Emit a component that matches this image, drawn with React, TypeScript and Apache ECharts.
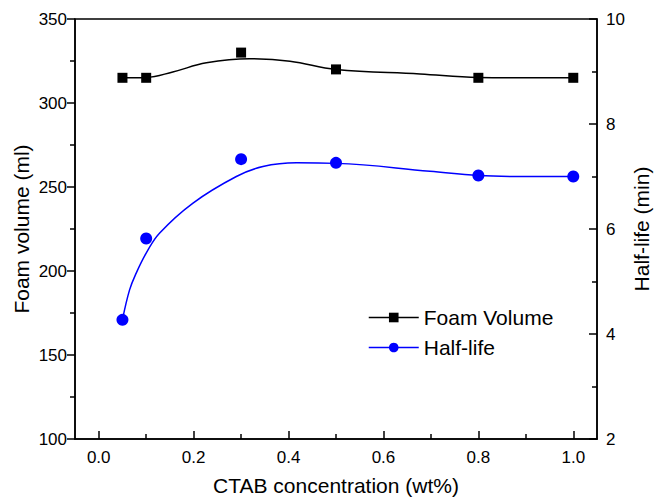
import React, { useEffect, useRef } from "react";
import * as echarts from "echarts";

// Measured data points
const concentrations = [0.05, 0.1, 0.3, 0.5, 0.8, 1.0];
const foamVolume = [315, 315, 330, 320, 315, 315];
const halfLife = [4.27, 5.82, 7.33, 7.26, 7.02, 7.0];

// Fitted curves
const foamFitX = [0.05, 0.1, 0.156, 0.227, 0.318, 0.403, 0.5, 0.677, 0.8, 0.9, 1.0];
const foamFitY = [315, 315.2, 318.5, 323.9, 326.3, 324.9, 320, 317.3, 315.2, 315, 315];
const halfFitX = [0.05, 0.065, 0.079, 0.1, 0.128, 0.198, 0.29, 0.346, 0.417, 0.5, 0.698, 0.8, 0.9, 1.0];
const halfFitY = [4.27, 4.84, 5.16, 5.54, 5.92, 6.49, 7.0, 7.19, 7.26, 7.25, 7.1, 7.02, 7.0, 7.0];

// Axis ticks
const xMajorTicks = [0, 0.2, 0.4, 0.6, 0.8, 1.0];
const xMinorTicks = [0.1, 0.3, 0.5, 0.7, 0.9];

const FONT = 'Arial, "Liberation Sans", sans-serif';

export default function App() {
  const ref = useRef<HTMLDivElement>(null);
  useEffect(() => {
    if (!ref.current) return;
    const chart = echarts.init(ref.current, undefined, { renderer: "svg" });
    const zip = (xs: number[], ys: number[]) => xs.map((x, i) => [x, ys[i]]);
    chart.setOption({
      animation: false,
      backgroundColor: "#fff",
      textStyle: { fontFamily: FONT, color: "#000" },
      grid: {
        left: 75,
        right: 57,
        top: 19,
        bottom: 58,
        outerBoundsMode: "none",
        containLabel: false,
        show: true,
        borderColor: "#000",
        borderWidth: 1.5,
        backgroundColor: "transparent",
      },
      legend: {
        orient: "vertical",
        left: 368,
        top: 307,
        padding: 0,
        itemWidth: 50,
        itemHeight: 12,
        itemGap: 9,
        textStyle: { fontSize: 21, fontFamily: FONT, color: "#000" },
        lineStyle: { width: 1.5, opacity: 1 },
        data: ["Foam Volume", "Half-life"],
      },
      xAxis: [
        {
          type: "value",
          min: -0.05,
          max: 1.05,
          position: "bottom",
          name: "CTAB concentration (wt%)",
          nameLocation: "middle",
          nameGap: 36,
          nameMoveOverlap: false,
          nameTextStyle: { fontSize: 21, fontFamily: FONT, color: "#000" },
          axisLine: { show: true, onZero: false, lineStyle: { color: "#000", width: 1.5 } },
          axisTick: {
            show: true,
            inside: true,
            length: 8,
            customValues: xMajorTicks,
            lineStyle: { color: "#000", width: 1.5 },
          },
          axisLabel: {
            customValues: xMajorTicks,
            fontSize: 17,
            fontFamily: FONT,
            color: "#000",
            margin: 18,
            verticalAlign: "middle",
            formatter: (v: number) => v.toFixed(1),
          },
          splitLine: { show: false },
        },
        {
          type: "value",
          min: -0.05,
          max: 1.05,
          position: "bottom",
          axisLine: { show: false, onZero: false },
          axisTick: {
            show: true,
            inside: true,
            length: 5,
            customValues: xMinorTicks,
            lineStyle: { color: "#000", width: 1.5 },
          },
          axisLabel: { show: false },
          splitLine: { show: false },
        },
      ],
      yAxis: [
        {
          type: "value",
          min: 100,
          max: 350,
          interval: 50,
          position: "left",
          name: "Foam volume (ml)",
          nameLocation: "middle",
          nameGap: 43,
          nameMoveOverlap: false,
          nameTextStyle: { fontSize: 21, fontFamily: FONT, color: "#000" },
          axisLine: { show: true, onZero: false, lineStyle: { color: "#000", width: 1.5 } },
          axisTick: { show: true, inside: false, length: 8, lineStyle: { color: "#000", width: 1.5 } },
          minorTick: { show: true, splitNumber: 2, length: 5, lineStyle: { color: "#000", width: 1.5 } },
          axisLabel: { fontSize: 17, fontFamily: FONT, color: "#000", margin: 8 },
          splitLine: { show: false },
        },
        {
          type: "value",
          min: 2,
          max: 10,
          interval: 2,
          position: "right",
          name: "Half-life (min)",
          nameLocation: "middle",
          nameGap: 34,
          nameMoveOverlap: false,
          nameTextStyle: { fontSize: 21, fontFamily: FONT, color: "#000" },
          axisLine: { show: true, onZero: false, lineStyle: { color: "#000", width: 1.5 } },
          axisTick: { show: true, inside: true, length: 8, lineStyle: { color: "#000", width: 1.5 } },
          minorTick: { show: true, splitNumber: 2, length: 5, lineStyle: { color: "#000", width: 1.5 } },
          axisLabel: { fontSize: 17, fontFamily: FONT, color: "#000", margin: 9 },
          splitLine: { show: false },
        },
      ],
      series: [
        {
          name: "foamFit",
          type: "line",
          xAxisIndex: 0,
          yAxisIndex: 0,
          data: zip(foamFitX, foamFitY),
          smooth: 0.4,
          symbol: "none",
          lineStyle: { color: "#000", width: 1.5 },
          itemStyle: { color: "#000" },
          z: 2,
        },
        {
          name: "halfFit",
          type: "line",
          xAxisIndex: 0,
          yAxisIndex: 1,
          data: zip(halfFitX, halfFitY),
          smooth: 0.4,
          symbol: "none",
          lineStyle: { color: "#0000ff", width: 1.5 },
          itemStyle: { color: "#0000ff" },
          z: 2,
        },
        {
          name: "Foam Volume",
          type: "line",
          xAxisIndex: 0,
          yAxisIndex: 0,
          data: zip(concentrations, foamVolume),
          symbol: "rect",
          symbolSize: 10,
          showSymbol: true,
          lineStyle: { width: 0, color: "#000" },
          itemStyle: { color: "#000" },
          z: 3,
        },
        {
          name: "Half-life",
          type: "line",
          xAxisIndex: 0,
          yAxisIndex: 1,
          data: zip(concentrations, halfLife),
          symbol: "circle",
          symbolSize: 12,
          showSymbol: true,
          lineStyle: { width: 0, color: "#0000ff" },
          itemStyle: { color: "#0000ff" },
          z: 3,
        },
      ],
    });
    return () => chart.dispose();
  }, []);
  return (
    <div
      ref={ref}
      style={{ position: "fixed", left: 0, top: 0, width: 654, height: 497, background: "#fff" }}
    />
  );
}
